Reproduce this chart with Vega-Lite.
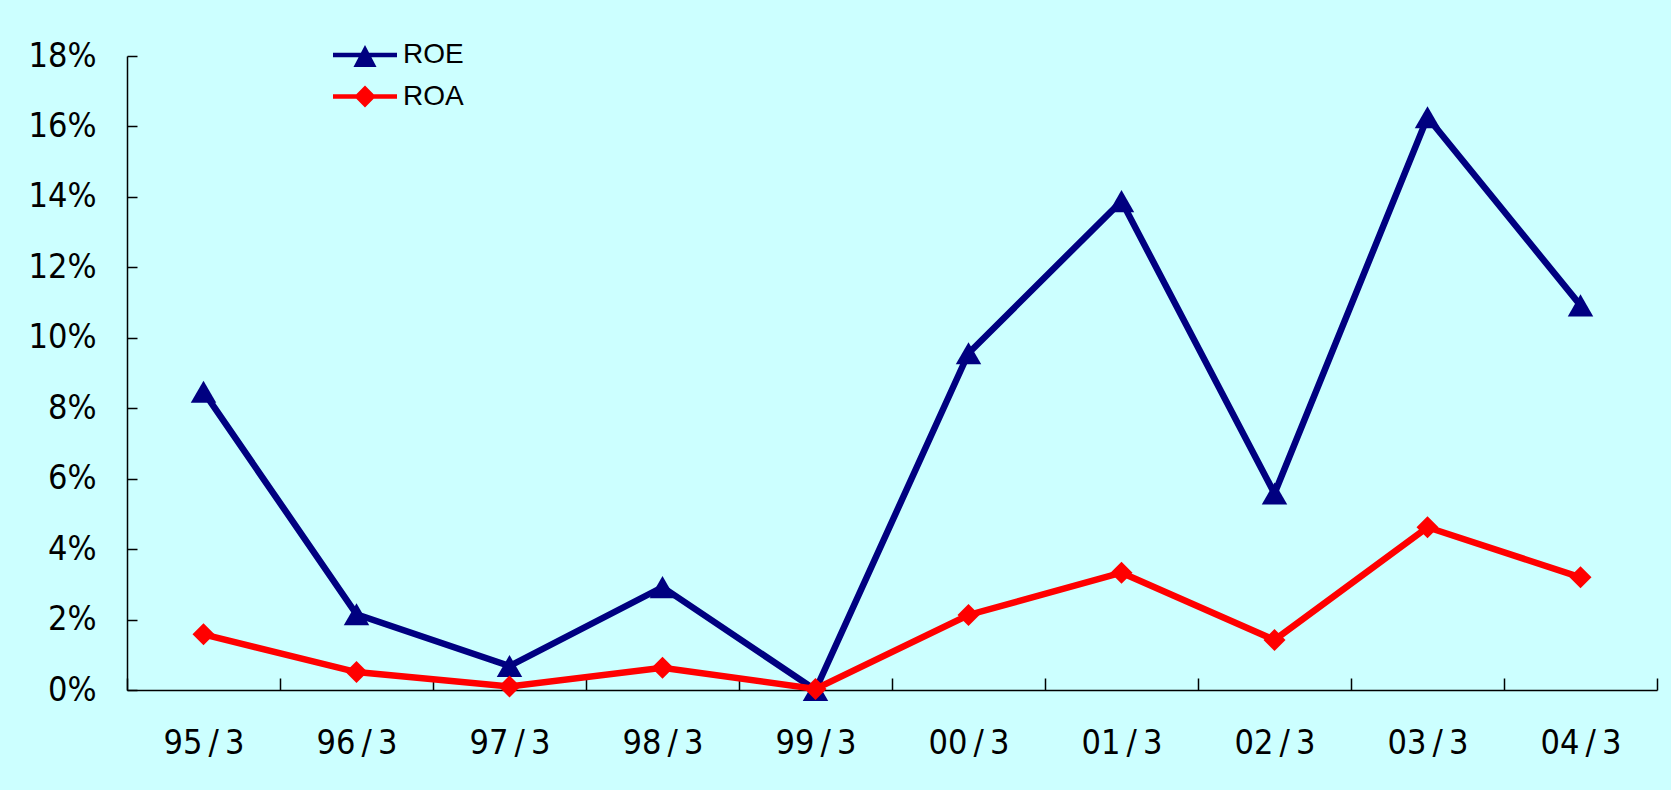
{
  "$schema": "https://vega.github.io/schema/vega-lite/v6.json",
  "width": 1530,
  "height": 634,
  "autosize": {"type": "none"},
  "padding": {"left": 127, "top": 56, "right": 14, "bottom": 100},
  "background": "#CCFFFF",
  "config": {"view": {"stroke": null}, "font": "DejaVu Sans Condensed"},
  "data": {
    "values": [
      {"period": "95/3", "series": "ROE", "value": 8.47},
      {"period": "96/3", "series": "ROE", "value": 2.15},
      {"period": "97/3", "series": "ROE", "value": 0.68},
      {"period": "98/3", "series": "ROE", "value": 2.92},
      {"period": "99/3", "series": "ROE", "value": 0.0},
      {"period": "00/3", "series": "ROE", "value": 9.56},
      {"period": "01/3", "series": "ROE", "value": 13.88},
      {"period": "02/3", "series": "ROE", "value": 5.58},
      {"period": "03/3", "series": "ROE", "value": 16.26},
      {"period": "04/3", "series": "ROE", "value": 10.92},
      {"period": "95/3", "series": "ROA", "value": 1.58},
      {"period": "96/3", "series": "ROA", "value": 0.51},
      {"period": "97/3", "series": "ROA", "value": 0.10},
      {"period": "98/3", "series": "ROA", "value": 0.63},
      {"period": "99/3", "series": "ROA", "value": 0.03},
      {"period": "00/3", "series": "ROA", "value": 2.13},
      {"period": "01/3", "series": "ROA", "value": 3.33},
      {"period": "02/3", "series": "ROA", "value": 1.42},
      {"period": "03/3", "series": "ROA", "value": 4.62},
      {"period": "04/3", "series": "ROA", "value": 3.20}
    ]
  },
  "encoding": {
    "x": {
      "field": "period", "type": "ordinal", "sort": null,
      "scale": {"type": "band", "paddingInner": 0, "paddingOuter": 0},
      "axis": {
        "title": null, "labelAngle": 0, "tickBand": "extent", "tickSize": -12,
        "tickColor": "black", "tickWidth": 1.5, "domainColor": "black", "domainWidth": 1.5,
        "labelFont": "DejaVu Sans Condensed", "labelFontSize": 34, "labelColor": "black",
        "labelPadding": 48, "labelBaseline": "top",
        "labelExpr": "replace(datum.label, '/', '\u2009/\u2009')"
      }
    },
    "y": {
      "field": "value", "type": "quantitative",
      "scale": {"domain": [0, 18], "nice": false},
      "axis": {
        "title": null, "grid": false, "values": [0, 2, 4, 6, 8, 10, 12, 14, 16, 18],
        "labelExpr": "datum.value + '%'", "tickSize": -10, "tickColor": "black", "tickWidth": 1.5,
        "domainColor": "black", "domainWidth": 1.5,
        "labelFont": "DejaVu Sans Condensed", "labelFontSize": 34, "labelColor": "black",
        "labelPadding": 41
      }
    },
    "color": {
      "field": "series", "type": "nominal",
      "scale": {"domain": ["ROE", "ROA"], "range": ["#000080", "#FF0000"]},
      "legend": {
        "orient": "none", "legendX": 222, "legendY": -17, "title": null, "padding": 0,
        "labelFont": "Liberation Sans", "labelFontSize": 28, "labelColor": "black",
        "symbolSize": 1024, "labelOffset": 22, "rowPadding": 11.5,
        "encode": {
          "symbols": {
            "update": {
              "shape": {"signal": "datum.value === 'ROE' ? 'M-2,-0.14L2,-0.14L2,0.14L-2,0.14Z M0,-0.62L0.72,0.75L-0.72,0.75Z' : 'M-2,-0.14L2,-0.14L2,0.14L-2,0.14Z M0,-0.68L0.68,0L0,0.68L-0.68,0Z'"},
              "fill": {"signal": "datum.value === 'ROE' ? '#000080' : '#FF0000'"},
              "stroke": {"value": "transparent"},
              "strokeWidth": {"value": 0},
              "opacity": {"value": 1}
            }
          }
        }
      }
    }
  },
  "layer": [
    {"transform": [{"filter": "datum.series === 'ROE'"}], "mark": {"type": "line", "strokeWidth": 6.5}},
    {"transform": [{"filter": "datum.series === 'ROE'"}], "mark": {"type": "point", "filled": true, "opacity": 1, "shape": "triangle-up", "size": 650}},
    {"transform": [{"filter": "datum.series === 'ROA'"}], "mark": {"type": "line", "strokeWidth": 6.5}},
    {"transform": [{"filter": "datum.series === 'ROA'"}], "mark": {"type": "point", "filled": true, "opacity": 1, "shape": "diamond", "size": 484}}
  ]
}
